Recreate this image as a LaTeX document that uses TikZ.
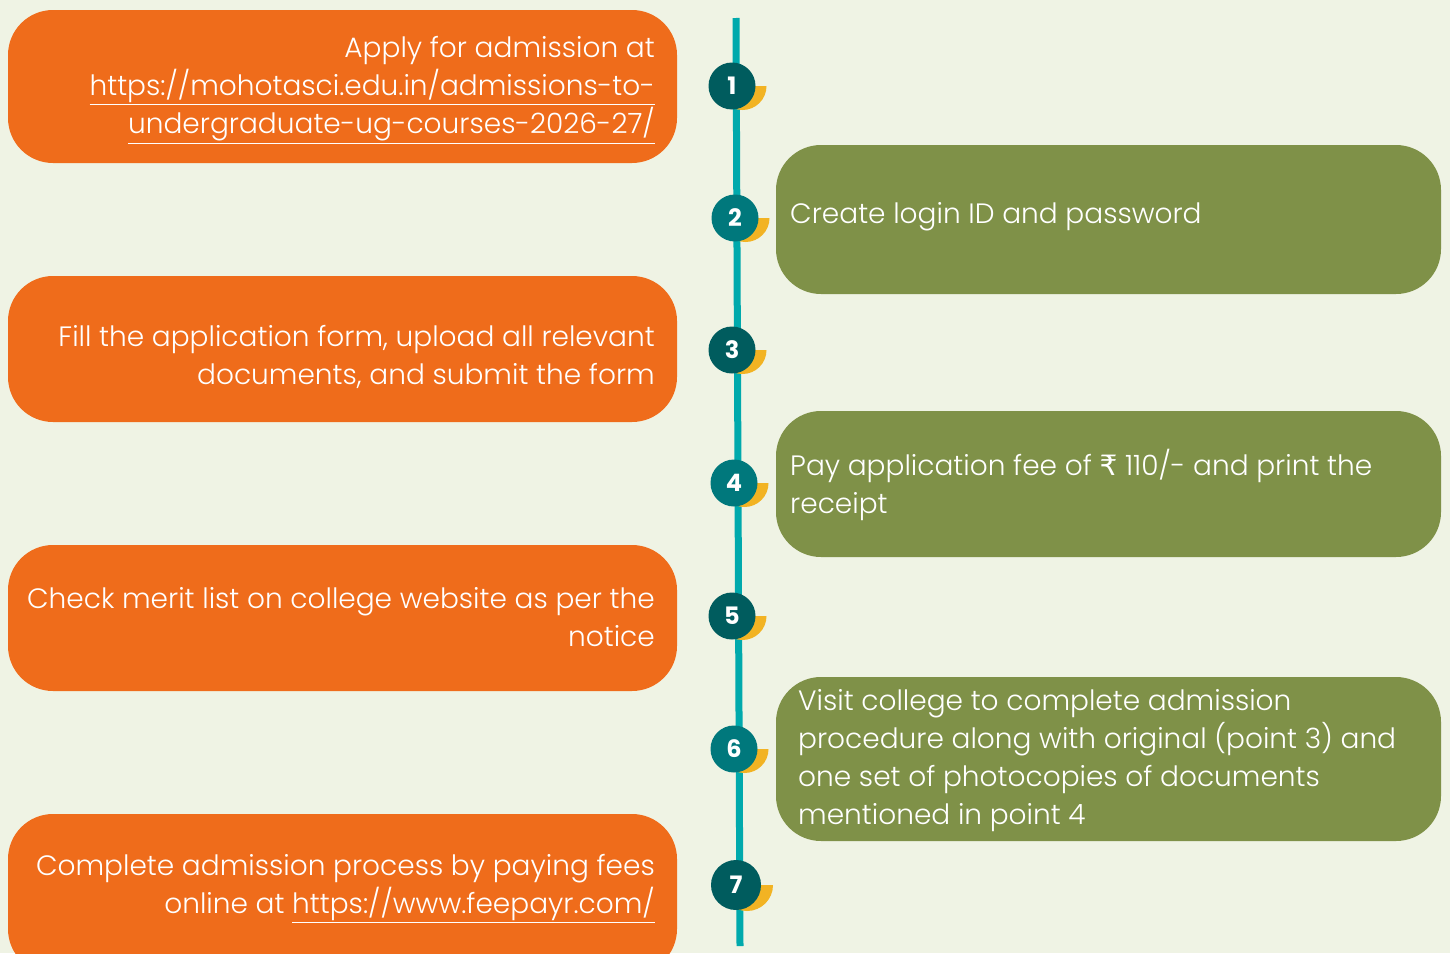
\documentclass[tikz,border=0pt]{standalone}
\usepackage{fontspec}
\setmainfont{Poppins Light}[BoldFont=Poppins Bold]
\newfontfamily\rupeefont{DejaVu Sans}
\definecolor{bgc}{HTML}{EFF3E4}
\definecolor{orangec}{HTML}{EF6C1B}
\definecolor{greenc}{HTML}{7F9148}
\definecolor{linec}{HTML}{00A9AC}
\definecolor{darkc}{HTML}{005C5E}
\definecolor{midc}{HTML}{00787C}
\definecolor{yellowc}{HTML}{F2B323}
\tikzset{
  obox/.style={fill=orangec, rounded corners=45pt, minimum width=669pt, inner sep=0pt},
  gbox/.style={fill=greenc, rounded corners=45pt, minimum width=665pt, inner sep=0pt},
  rtext/.style={text=white, align=right, anchor=east, inner sep=0pt, font=\fontsize{28}{38}\selectfont},
  ltext/.style={text=white, align=left, anchor=west, inner sep=0pt, font=\fontsize{28}{38}\selectfont},
  numc/.style={circle, minimum size=47pt, inner sep=0pt, text=white, font=\fontsize{24}{24}\selectfont\bfseries},
}
\usetikzlibrary{calc}
\newcommand{\yellowhalf}[3]{\fill[yellowc] ($(#1)+(#2,0)$) ++(-#3,0) arc[start angle=180, end angle=0, radius=#3] -- cycle;}
\begin{document}
\begin{tikzpicture}[x=1pt,y=-1pt]
\fill[bgc] (0,0) rectangle (1450,953);
\useasboundingbox (0,0) rectangle (1450,953);
% boxes
\node[obox, minimum height=153pt] (b1) at (342.5,86.5) {};
\node[gbox, minimum height=149pt] (b2) at (1108.5,219.5) {};
\node[obox, minimum height=146pt] (b3) at (342.5,349) {};
\node[gbox, minimum height=146pt] (b4) at (1108.5,484) {};
\node[obox, minimum height=146pt] (b5) at (342.5,618) {};
\node[gbox, minimum height=164pt] (b6) at (1108.5,759) {};
\node[obox, minimum height=160pt] (b7) at (342.5,894) {};
% texts
\node[rtext] (t1) at (655,90) {Apply for admission at\\\underline{https://mohotasci.edu.in/admissions-to-}\\\underline{undergraduate-ug-courses-2026-27/}};
\node[ltext] (t2) at (790,217) {Create login ID and password};
\node[rtext] (t3) at (655,357) {Fill the application form, upload all relevant\\documents, and submit the form};
\node[ltext] (t4) at (790,485) {Pay application fee of {\rupeefont ₹} 110/- and print the\\receipt};
\node[rtext] (t5) at (655,617) {Check merit list on college website as per the\\notice};
\node[ltext] (t6) at (798,761) {Visit college to complete admission\\procedure along with original (point 3) and\\one set of photocopies of documents\\mentioned in point 4};
\node[rtext] (t7) at (655,889) {Complete admission process by paying fees\\online at \underline{https://www.feepayr.com/}};
% timeline
\coordinate (ltop) at (736,18);
\coordinate (lbot) at (740,946);
\draw[linec, line width=7pt] (ltop) -- (lbot);
% circles
\coordinate (p1) at (732,86);
\coordinate (p2) at (735,218);
\coordinate (p3) at (732,350);
\coordinate (p4) at (734,483);
\coordinate (p5) at (732,616);
\coordinate (p6) at (734,749);
\coordinate (p7) at (736,885);
\yellowhalf{p1}{10.5}{24}
\yellowhalf{p2}{10.5}{24}
\yellowhalf{p3}{10.5}{24}
\yellowhalf{p4}{10.5}{24}
\yellowhalf{p5}{10.5}{24}
\yellowhalf{p6}{10.5}{24}
\yellowhalf{p7}{11}{26}
\node[numc, fill=darkc] (n1) at (p1) {1};
\node[numc, fill=midc] (n2) at (p2) {2};
\node[numc, fill=darkc] (n3) at (p3) {3};
\node[numc, fill=midc] (n4) at (p4) {4};
\node[numc, fill=darkc] (n5) at (p5) {5};
\node[numc, fill=midc] (n6) at (p6) {6};
\node[numc, fill=darkc, minimum size=50pt] (n7) at (p7) {7};
\end{tikzpicture}
\end{document}
